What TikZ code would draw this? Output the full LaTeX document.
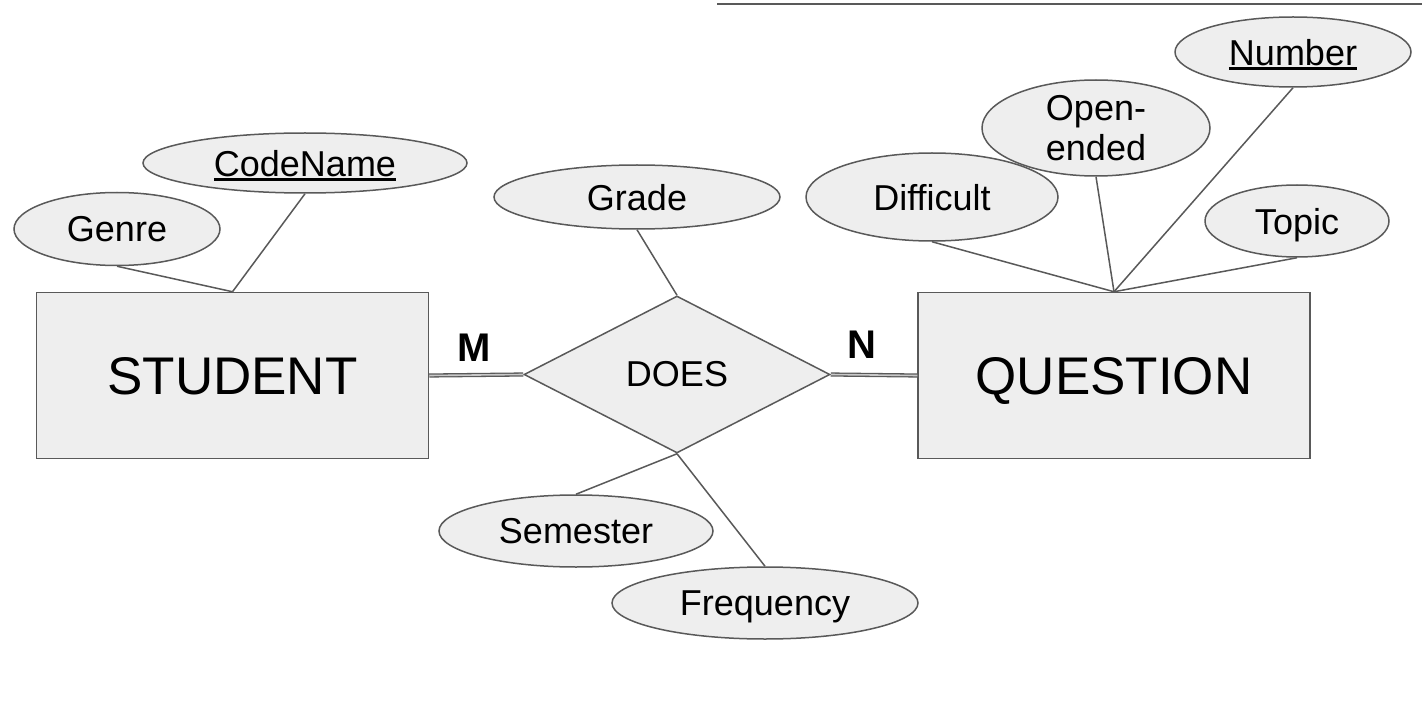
\documentclass[tikz,border=0pt]{standalone}
\usepackage{fontspec}
\setmainfont{Liberation Sans}
\usetikzlibrary{shapes.geometric}
\definecolor{edgegray}{HTML}{595959}
\definecolor{fillgray}{HTML}{EEEEEE}
\definecolor{gapgray}{HTML}{C8C8C8}
\newcommand\myul[1]{\setbox0\hbox{#1}\makebox[0pt][l]{\rule[-5pt]{\wd0}{2.6pt}}\box0}
\begin{document}
\begin{tikzpicture}[x=1pt,y=-1pt,
  attr/.style={ellipse,draw=edgegray,fill=fillgray,line width=1.5pt,inner sep=0pt,
    font=\fontsize{36}{40}\selectfont,align=center,text depth=0pt},
  entity/.style={rectangle,draw=edgegray,fill=fillgray,line width=1.5pt,inner sep=0pt,
    minimum width=392pt,minimum height=166pt,font=\fontsize{53}{60}\selectfont,
    text depth=0pt},
  relship/.style={diamond,draw=edgegray,fill=fillgray,line width=1.5pt,inner sep=0pt,
    minimum width=306pt,minimum height=157pt,font=\fontsize{36}{40}\selectfont},
  link/.style={draw=edgegray,line width=1.5pt},
  dbl/.style={draw=edgegray,line width=1.3pt,double=gapgray,double distance=1.6pt},
  card/.style={font=\fontsize{40}{44}\selectfont\bfseries}]
\useasboundingbox[fill=white] (0,0) rectangle (1422,714);

\coordinate (topa) at (717,4);
\coordinate (topb) at (1422,4);
\draw[link] (topa) -- (topb);

% entities and relationship
\node[entity] (student) at (232.5,375.5) {STUDENT};
\node[entity] (question) at (1114,375.5) {QUESTION};
\node[relship] (does) at (677,374.5) {DOES};

% attributes
\node[attr,minimum width=206pt,minimum height=73pt] (genre) at (117,229) {Genre};
\node[attr,minimum width=324pt,minimum height=60pt] (codename) at (305,163) {\myul{CodeName}};
\node[attr,minimum width=286pt,minimum height=64pt] (grade) at (637,197) {Grade};
\node[attr,minimum width=274pt,minimum height=72pt] (semester) at (576,531) {Semester};
\node[attr,minimum width=306pt,minimum height=72pt] (frequency) at (765,603) {Frequency};
\node[attr,minimum width=252pt,minimum height=88pt] (difficult) at (932,197) {Difficult};
\node[attr,minimum width=228pt,minimum height=96pt] (openended) at (1096,128) {Open-\\ended};
\node[attr,minimum width=236pt,minimum height=70pt] (number) at (1293,52) {\myul{Number}};
\node[attr,minimum width=184pt,minimum height=72pt] (topic) at (1297,221) {Topic};

% attribute links
\draw[link] (genre.south) -- (student.north);
\draw[link] (codename.south) -- (student.north);
\draw[link] (grade.south) -- (does.north);
\draw[link] (does.south) -- (semester.north);
\draw[link] (does.south) -- (frequency.north);
\draw[link] (difficult.south) -- (question.north);
\draw[link] (openended.south) -- (question.north);
\draw[link] (number.south) -- (question.north);
\draw[link] (topic.south) -- (question.north);

% relationship links
\draw[dbl] (student.east) -- (does.west);
\draw[dbl] (does.east) -- (question.west);

\node[card] (m) at (474,348) {M};
\node[card] (n) at (862,345) {N};
\end{tikzpicture}
\end{document}
